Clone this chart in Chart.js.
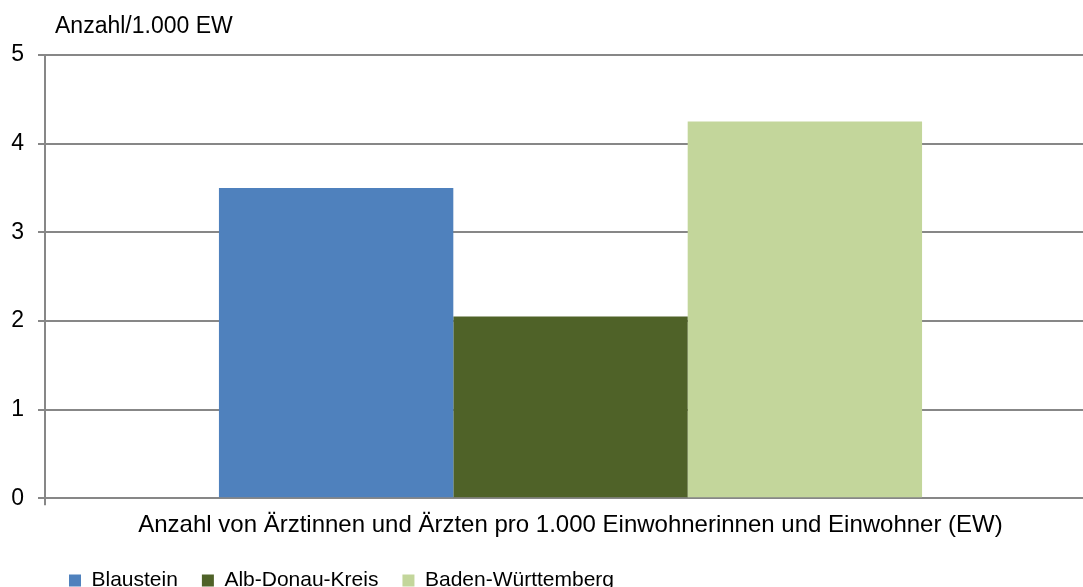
<!DOCTYPE html>
<html>
<head>
<meta charset="utf-8">
<script src="https://cdn.jsdelivr.net/npm/chart.js@4"></script>
<style>
  body { margin: 0; overflow: hidden; background: #fff; }
</style>
</head>
<body>
<canvas id="myChart" width="1100" height="601"></canvas>
<script>
// Daten aus dem Diagramm
const kategorien = ['Anzahl von Ärztinnen und Ärzten pro 1.000 Einwohnerinnen und Einwohner (EW)'];
const reihen = ['Blaustein', 'Alb-Donau-Kreis', 'Baden-Württemberg'];
const werte = [3.5, 2.05, 4.25];
const farben = ['#4F81BD', '#4F6228', '#C3D69B'];
const yTicks = [0, 1, 2, 3, 4, 5];
const yTitel = 'Anzahl/1.000 EW';

const schrift = '"Liberation Sans", Arial, sans-serif';
const grau = '#878787';

// Achsentitel oben links
const titelPlugin = {
  id: 'yTitel',
  afterDraw(chart) {
    const ctx = chart.ctx;
    ctx.save();
    ctx.font = '23px ' + schrift;
    ctx.fillStyle = '#000';
    ctx.textBaseline = 'alphabetic';
    ctx.fillText(yTitel, chart.chartArea.left + 10, 33);
    ctx.restore();
  }
};

const ctx = document.getElementById('myChart');

new Chart(ctx, {
  type: 'bar',
  data: {
    labels: kategorien,
    datasets: reihen.map((name, i) => ({
      label: name,
      data: [werte[i]],
      backgroundColor: farben[i],
      borderWidth: 0,
      barPercentage: 1,
      categoryPercentage: 0.669
    }))
  },
  options: {
    responsive: false,
    animation: false,
    layout: { padding: { top: 55, left: 11, right: 4, bottom: 0 } },
    plugins: {
      title: { display: false },
      tooltip: { enabled: false },
      legend: {
        position: 'bottom',
        align: 'start',
        fullSize: false,
        labels: {
          color: '#000',
          font: { family: schrift, size: 21 },
          boxWidth: 12,
          boxHeight: 12,
          padding: 24
        }
      }
    },
    scales: {
      y: {
        min: 0,
        max: 5,
        afterBuildTicks: axis => { axis.ticks = yTicks.map(v => ({ value: v })); },
        afterFit: axis => { axis.width = 34; },
        border: { display: true, color: grau, width: 2 },
        grid: { color: grau, lineWidth: 2, tickLength: 7, drawTicks: true },
        ticks: {
          color: '#000',
          padding: 14,
          font: { family: schrift, size: 23 }
        }
      },
      x: {
        border: { display: true, color: grau, width: 2 },
        grid: { color: grau, lineWidth: 2, drawOnChartArea: false, tickLength: 7, offset: true },
        ticks: {
          color: '#000',
          padding: 6,
          maxRotation: 0,
          font: { family: schrift, size: 24 }
        }
      }
    }
  },
  plugins: [titelPlugin]
});
</script>
</body>
</html>
